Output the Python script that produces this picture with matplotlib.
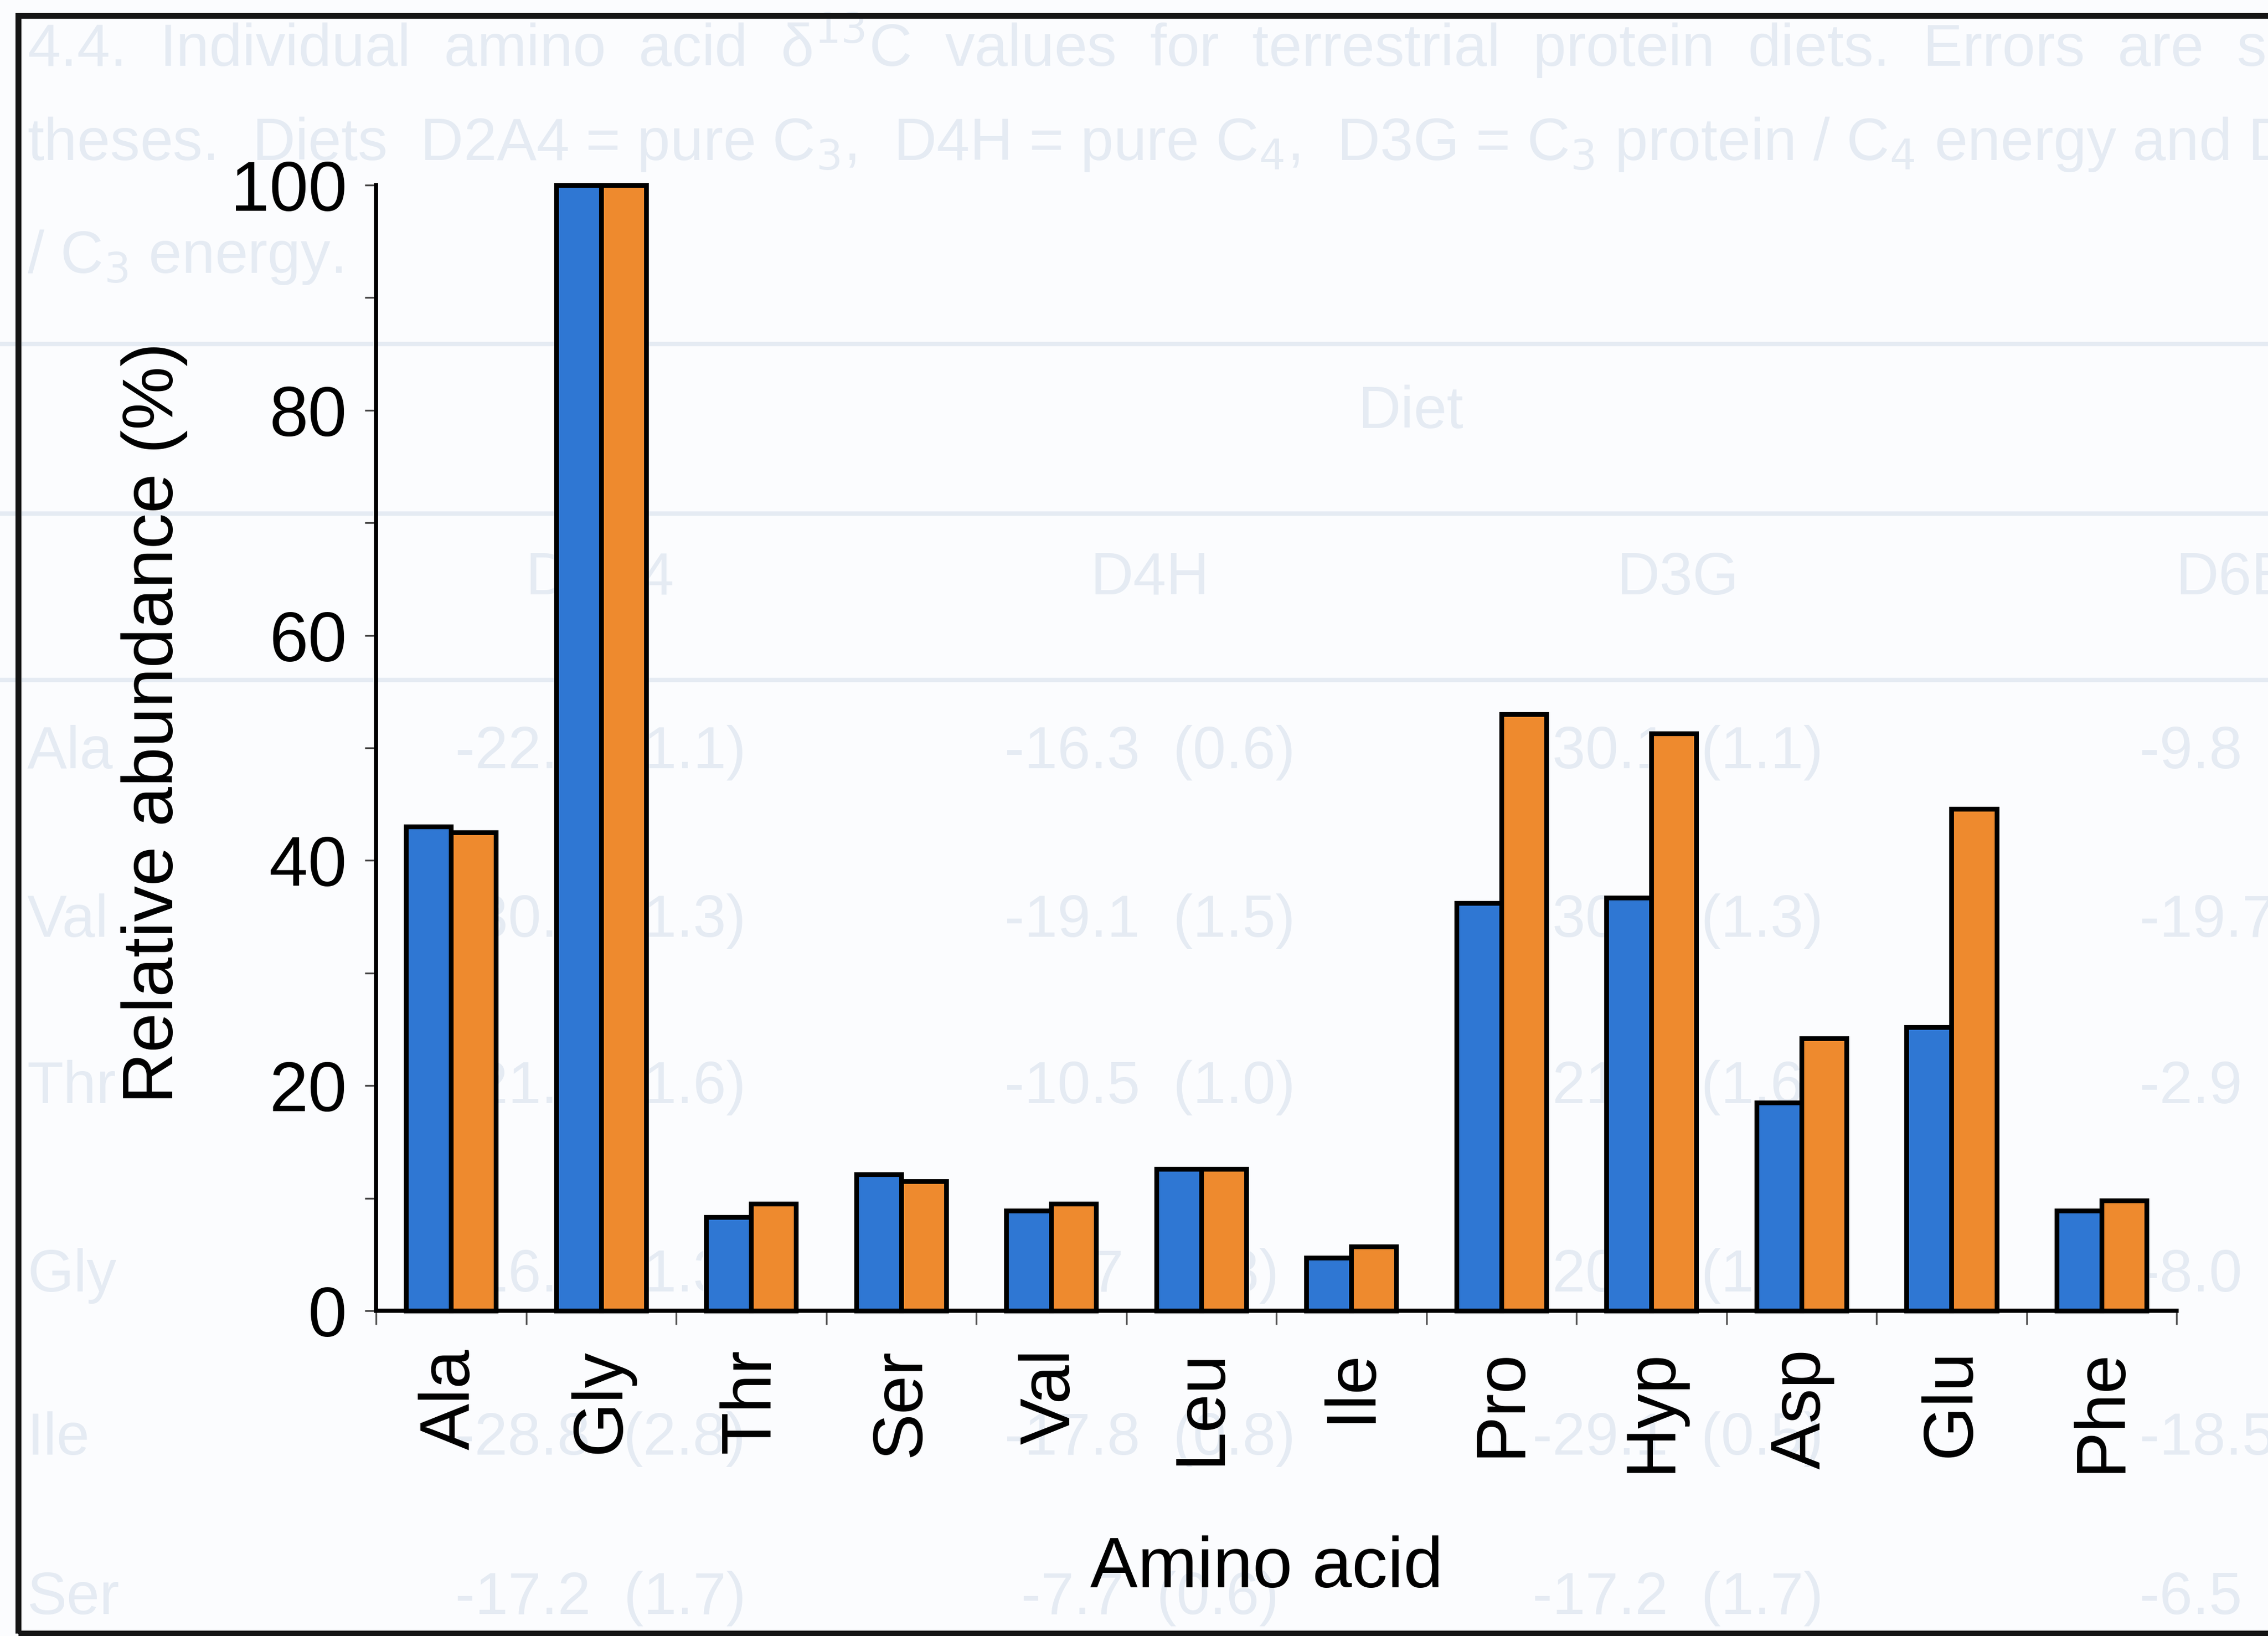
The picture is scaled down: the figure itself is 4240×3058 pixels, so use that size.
import numpy as np
import matplotlib
matplotlib.use("Agg")
import matplotlib.pyplot as plt
from matplotlib.patches import Rectangle

# relative abundance of each amino acid (%), Gly = 100
amino_acids = ["Ala", "Gly", "Thr", "Ser", "Val", "Leu", "Ile", "Pro", "Hyp", "Asp", "Glu", "Phe"]
blue_values = [43.0, 100, 8.3, 12.1, 8.9, 12.6, 4.7, 36.2, 36.7, 18.5, 25.2, 8.9]
orange_values = [42.5, 100, 9.5, 11.5, 9.5, 12.6, 5.7, 53.0, 51.3, 24.2, 44.6, 9.8]

# faint table printed on the reverse of the page
caption_lines = [
    "4.4.  Individual  amino  acid  δ$^{13}$C  values  for  terrestrial  protein  diets.  Errors  are  shown",
    "theses.  Diets  D2A4 = pure C$_3$,  D4H = pure C$_4$,  D3G = C$_3$ protein / C$_4$ energy and D6",
    "/ C$_3$ energy.",
]
diet_names = ["D2A4", "D4H", "D3G", "D6B"]
table_rows = ["Ala", "Val", "Thr", "Gly", "Ile", "Ser"]
table_values = [
    ["-22.9  (1.1)", "-16.3  (0.6)", "-30.1  (1.1)", "-9.8  (1"],
    ["-30.5  (1.3)", "-19.1  (1.5)", "-30.5  (1.3)", "-19.7  ("],
    ["-21.4  (1.6)", "-10.5  (1.0)", "-21.4  (1.6)", "-2.9  (1"],
    ["-16.9  (1.3)", "-8.7  (0.8)", "-20.1  (1.2)", "-8.0  (1"],
    ["-28.8  (2.8)", "-17.8  (0.8)", "-29.1  (0.5)", "-18.5  ("],
    ["-17.2  (1.7)", "-7.7  (0.6)", "-17.2  (1.7)", "-6.5  (1"],
]

plt.rcParams["font.family"] = ["Liberation Sans", "DejaVu Sans"]

fig = plt.figure(figsize=(10.6, 7.645), dpi=400, facecolor="#FBFCFE")

# show-through text sits underneath everything else
ghost = "#E5EBF3"
gz = -5
for txt, yy in zip(caption_lines, [0.972, 0.9116, 0.8426]):
    fig.text(0.012, yy, txt, fontsize=20, color=ghost, va="center", ha="left", zorder=gz)
for yy in [0.7896, 0.6861, 0.5844]:
    fig.add_artist(plt.Line2D([0, 1], [yy, yy], transform=fig.transFigure, color=ghost, lw=1.5, zorder=gz))
fig.text(0.622, 0.748, "Diet", fontsize=20, color=ghost, ha="center", va="center", zorder=gz)
col_x = [0.2647, 0.507, 0.7398, 0.985]
row_y = [0.540, 0.4368, 0.3351, 0.2202, 0.1203, 0.023]
for cx, name in zip(col_x, diet_names):
    fig.text(cx, 0.6463, name, fontsize=20, color=ghost, ha="center", va="center", zorder=gz)
for ry, name, vals in zip(row_y, table_rows, table_values):
    fig.text(0.012, ry, name, fontsize=20, color=ghost, ha="left", va="center", zorder=gz)
    for cx, v in zip(col_x, vals):
        fig.text(cx, ry, v, fontsize=20, color=ghost, ha="center", va="center", zorder=gz)

# outer frame of the figure panel
fig.add_artist(Rectangle((0.008, 0.0015), 1.05, 0.989, transform=fig.transFigure,
                         fill=False, lw=2.0, ec="#151515", zorder=1))

ax = fig.add_axes([0.1658, 0.1988, 0.7939, 0.6881])
ax.set_facecolor("none")

x = np.arange(len(amino_acids)) + 0.5
w = 0.3
ax.bar(x - w / 2, blue_values, w, color="#2F77D3", edgecolor="black", linewidth=1.6,
       clip_on=False, zorder=3)
ax.bar(x + w / 2, orange_values, w, color="#EE8A2E", edgecolor="black", linewidth=1.6,
       clip_on=False, zorder=3)

ax.set_xlim(0, len(amino_acids))
ax.set_ylim(0, 100)

for s in ["top", "right"]:
    ax.spines[s].set_visible(False)
for s in ["left", "bottom"]:
    ax.spines[s].set_linewidth(1.4)
    ax.spines[s].set_zorder(4)

ax.set_xticks(np.arange(len(amino_acids) + 1))
ax.set_xticklabels([])
ax.set_xticks(x, minor=True)
ax.set_xticklabels(amino_acids, minor=True, rotation=90, fontsize=23.5)
ax.tick_params(axis="x", which="major", direction="out", length=4.7, width=0.6, color="#555555")
ax.tick_params(axis="x", which="minor", length=0, pad=12.8)

ax.set_yticks(np.arange(0, 101, 20))
ax.set_yticks(np.arange(10, 100, 20), minor=True)
ax.tick_params(axis="y", which="both", direction="out", length=3.8, width=0.6, color="#444444")
ax.tick_params(axis="y", which="major", pad=6, labelsize=23.5)

fig.text(0.068, 0.558, "Relative abundance (%)", rotation=90, ha="center", va="center", fontsize=24)
fig.text(0.5585, 0.0298, "Amino acid", ha="center", va="baseline", fontsize=24)

fig.savefig("out.png", dpi=400, facecolor=fig.get_facecolor())
